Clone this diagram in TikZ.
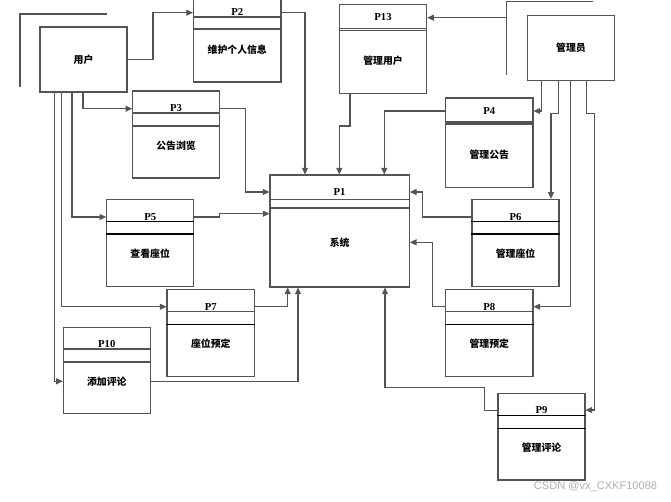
\documentclass[tikz,border=0pt]{standalone}
\usepackage{fontspec}
\setmainfont{Liberation Serif}
\newfontfamily\cjk{Noto Sans CJK SC}
\newfontfamily\wmfont{Liberation Sans}
\usetikzlibrary{arrows.meta,fit}
\definecolor{lc}{gray}{0.33}
\tikzset{
  box/.style={draw=lc, line width=0.8pt, inner sep=0pt},
  hl/.style={draw=lc, line width=0.8pt},
  con/.style={draw=lc, line width=0.8pt},
  arr/.style={con, -{Triangle[length=5pt,width=4.5pt]}},
  lab/.style={font=\fontsize{8}{9}\selectfont\bfseries, inner sep=0pt},
  txt/.style={font=\cjk\fontsize{7.4}{9}\selectfont\bfseries, inner sep=0pt},
}
\begin{document}
\begin{tikzpicture}[x=0.75pt,y=-0.75pt]
\clip (0,0) rectangle (671,501);
\fill[white] (0,0) rectangle (671,501);

% stray brackets
\draw[con] (107,14) -- (20,14) -- (20,87);
\draw[con] (593.3,1.7) -- (506.7,1.7) -- (506.7,75);
\coordinate (brk) at (506.7,17.7);

% external entities
\node[box, fit={(40,27) (127,92)}] (user) {};
\node[txt] at (user.center) {用户};
\node[box, fit={(527.7,15.7) (614.3,80.7)}] (admin) {};
\node[txt] at (admin.center) {管理员};

% processes
\node[box, fit={(193.5,-5) (281,82)}] (p2) {};
\draw[hl] (p2.west |- 0,17) -- (p2.east |- 0,17);
\draw[hl] (p2.west |- 0,29) -- (p2.east |- 0,29);
\node[lab] at (p2.center |- 0,12) {P2};
\node[txt] at (p2.center |- 0,50) {维护个人信息};

\node[box, fit={(132.7,91) (219.3,178)}] (p3) {};
\draw[hl] (p3.west |- 0,113) -- (p3.east |- 0,113);
\draw[hl] (p3.west |- 0,126) -- (p3.east |- 0,126);
\node[lab] at (p3.center |- 0,108) {P3};
\node[txt] at (p3.center |- 0,146) {公告浏览};

\node[box, fit={(339.3,4.7) (426.7,93.3)}] (p13) {};
\draw[hl] (p13.west |- 0,28.7) -- (p13.east |- 0,28.7);
\draw[hl] (p13.west |- 0,30.5) -- (p13.east |- 0,30.5);
\node[lab] at (p13.center |- 0,17.3) {P13};
\node[txt] at (p13.center |- 0,61) {管理用户};

\node[box, fit={(445.7,98) (533,187.3)}] (p4) {};
\draw[hl] (p4.west |- 0,122) -- (p4.east |- 0,122);
\draw[hl] (p4.west |- 0,124) -- (p4.east |- 0,124);
\node[lab] at (p4.center |- 0,110.7) {P4};
\node[txt] at (p4.center |- 0,154.3) {管理公告};

\node[box, fit={(270,175) (409.3,287)}] (p1) {};
\draw[hl] (p1.west |- 0,199.3) -- (p1.east |- 0,199.3);
\draw[hl] (p1.west |- 0,208) -- (p1.east |- 0,208);
\node[lab] at (p1.center |- 0,191.7) {P1};
\node[txt] at (p1.center |- 0,242.7) {系统};

\node[box, fit={(106.7,199.3) (193.7,286.3)}] (p5) {};
\draw[hl,black] (p5.west |- 0,221.3) -- (p5.east |- 0,221.3);
\draw[hl,black] (p5.west |- 0,234) -- (p5.east |- 0,234);
\node[lab] at (p5.center |- 0,216.7) {P5};
\node[txt] at (p5.center |- 0,254) {查看座位};

\node[box, fit={(472,199.3) (559,286.3)}] (p6) {};
\draw[hl,black] (p6.west |- 0,221.3) -- (p6.east |- 0,221.3);
\draw[hl,black] (p6.west |- 0,234) -- (p6.east |- 0,234);
\node[lab] at (p6.center |- 0,216.7) {P6};
\node[txt] at (p6.center |- 0,253.3) {管理座位};

\node[box, fit={(167,289.7) (254.7,376.3)}] (p7) {};
\draw[hl] (p7.west |- 0,311.7) -- (p7.east |- 0,311.7);
\draw[hl,black] (p7.west |- 0,324.3) -- (p7.east |- 0,324.3);
\node[lab] at (p7.center |- 0,306.7) {P7};
\node[txt] at (p7.center |- 0,344) {座位预定};

\node[box, fit={(445.7,289.7) (533,376.3)}] (p8) {};
\draw[hl] (p8.west |- 0,311.3) -- (p8.east |- 0,311.3);
\draw[hl,black] (p8.west |- 0,324.3) -- (p8.east |- 0,324.3);
\node[lab] at (p8.center |- 0,306.7) {P8};
\node[txt] at (p8.center |- 0,343.7) {管理预定};

\node[box, fit={(63.3,327.3) (150.3,413.7)}] (p10) {};
\draw[hl] (p10.west |- 0,349) -- (p10.east |- 0,349);
\draw[hl] (p10.west |- 0,362) -- (p10.east |- 0,362);
\node[lab] at (p10.center |- 0,344.3) {P10};
\node[txt] at (p10.center |- 0,382) {添加评论};

\node[box, fit={(498,393.3) (585,480)}] (p9) {};
\draw[hl,black] (p9.west |- 0,415.3) -- (p9.east |- 0,415.3);
\draw[hl,black] (p9.west |- 0,428.3) -- (p9.east |- 0,428.3);
\node[lab] at (p9.center |- 0,410) {P9};
\node[txt] at (p9.center |- 0,447.7) {管理评论};

% connectors
\draw[arr] (user.east) -- (153,59.5) -- (153,12.7) -- (p2.west |- 0,12.7);
\draw[arr] (p2.east |- 0,12.7) -- (305,12.7) -- (p1.north -| 305,0);
\draw[arr] (user.south -| 83,0) -- (83,108.7) -- (p3.west |- 0,108.7);
\draw[arr] (p3.east |- 0,108.7) -- (245.7,108.7) -- (245.7,192) -- (p1.west |- 0,192);
\draw[arr] (user.south -| 72,0) -- (72,217) -- (p5.west |- 0,217);
\draw[arr] (p5.east |- 0,217) -- (219.7,217) -- (219.7,213.7) -- (p1.west |- 0,213.7);
\draw[arr] (user.south -| 61.3,0) -- (61.3,306.7) -- (p7.west |- 0,306.7);
\draw[arr] (p7.east |- 0,306.7) -- (287.7,306.7) -- (p1.south -| 287.7,0);
\draw[arr] (user.south -| 54.7,0) -- (54.7,381.3) -- (p10.west |- 0,381.3);
\draw[arr] (p10.east |- 0,381.3) -- (298,381.3) -- (p1.south -| 298,0);
\draw[arr] (brk) -- (p13.east |- brk);
\draw[arr] (p13.south -| 350,0) -- (350,126) -- (339.3,126) -- (p1.north -| 339.3,0);
\draw[arr] (admin.south -| 541.3,0) -- (541.3,111) -- (p4.east |- 0,111);
\draw[arr] (p4.west |- 0,111) -- (384.3,111) -- (p1.north -| 384.3,0);
\draw[arr] (admin.south -| 558.7,0) -- (558.7,113.3) -- (551,113.3) -- (p6.north -| 551,0);
\draw[arr] (admin.south -| 570.7,0) -- (570.7,306.7) -- (p8.east |- 0,306.7);
\draw[arr] (admin.south -| 586.7,0) -- (586.7,113.3) -- (594.3,113.3) -- (594.3,410) -- (p9.east |- 0,410);
\draw[arr] (p6.west |- 0,217) -- (422.3,217) -- (422.3,192) -- (p1.east |- 0,192);
\draw[arr] (p8.west |- 0,306.7) -- (432.7,306.7) -- (432.7,242.3) -- (p1.east |- 0,242.3);
\draw[arr] (p9.west |- 0,410.7) -- (484.7,410.7) -- (484.7,387.3) -- (385,387.3) -- (p1.south -| 385,0);

% watermark
\node[font=\wmfont\fontsize{8.3}{9}\selectfont, text=black!30, inner sep=0pt] (wm) at (595.5,487) {CSDN @vx\_CXKF10088};
\end{tikzpicture}
\end{document}
